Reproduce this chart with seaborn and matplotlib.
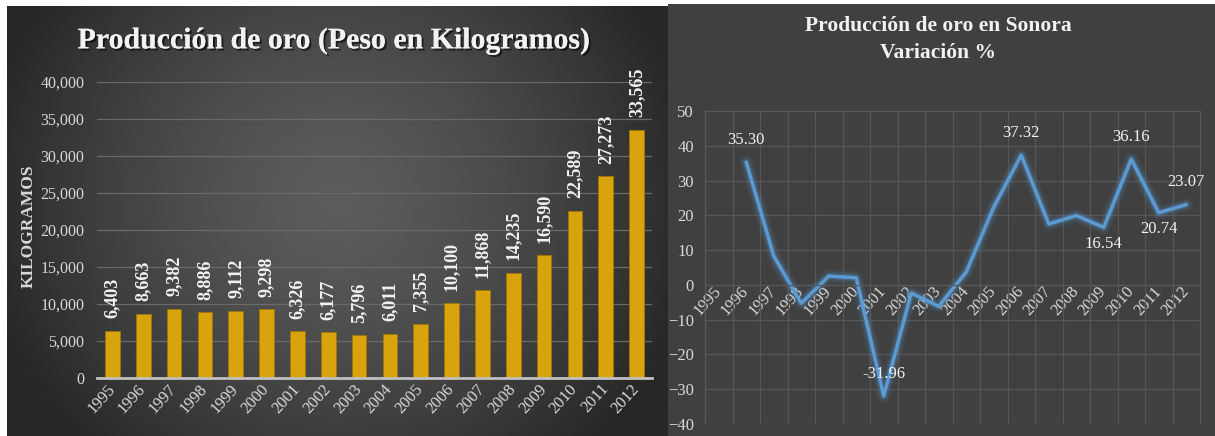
import numpy as np
import pandas as pd
import matplotlib
matplotlib.use("Agg")
import matplotlib.pyplot as plt
import matplotlib.patheffects as pe
import seaborn as sns

# ---------------- data ----------------
years = ["1995", "1996", "1997", "1998", "1999", "2000", "2001", "2002", "2003",
         "2004", "2005", "2006", "2007", "2008", "2009", "2010", "2011", "2012"]
produccion_kg = [6403, 8663, 9382, 8886, 9112, 9298, 6326, 6177, 5796,
                 6011, 7355, 10100, 11868, 14235, 16590, 22589, 27273, 33565]
variacion_pct = [np.nan, 35.30, 8.30, -5.29, 2.54, 2.04, -31.96, -2.36, -6.17,
                 3.71, 22.36, 37.32, 17.50, 19.94, 16.54, 36.16, 20.74, 23.07]
kg_ticks = [0, 5000, 10000, 15000, 20000, 25000, 30000, 35000, 40000]
pct_ticks = [-40, -30, -20, -10, 0, 10, 20, 30, 40, 50]
labels_above = ["1996", "2001", "2006", "2010", "2012"]
labels_below = ["2009", "2011"]

title_left = "Producción de oro (Peso en Kilogramos)"
title_right_1 = "Producción de oro en Sonora"
title_right_2 = "Variación %"
ylabel_left = "KILOGRAMOS"

# ---------------- style ----------------
W, H = 1215, 436
sns.set_theme(style="dark")
plt.rcParams['font.family'] = ['Liberation Serif', 'DejaVu Serif']

GOLD = "#D8A30C"
GOLD_EDGE = "#A07800"
LINE = "#5B9BD5"
TXT = "#D9D9D9"
WHITE = "#F2F2F2"

fig = plt.figure(figsize=(W / 100, H / 100), dpi=100)
fig.patch.set_facecolor("white")


def fx(px):
    return px / W


def fy(py):
    return 1 - py / H


# left panel background: radial gradient
bg = fig.add_axes([fx(7), 0, fx(668 - 7), (H - 6) / H], zorder=0)
ny, nx = 200, 300
yy, xx = np.mgrid[0:1:ny * 1j, 0:1:nx * 1j]
r = np.sqrt(((xx - 0.5) / 0.55) ** 2 + ((yy - 0.55) / 0.8) ** 2)
c_center = np.array([0x5C, 0x5C, 0x5C]) / 255
c_edge = np.array([0x27, 0x27, 0x27]) / 255
t = np.clip(r, 0, 1) ** 1.4
img = c_center[None, None, :] * (1 - t[..., None]) + c_edge[None, None, :] * t[..., None]
bg.imshow(img, aspect="auto", extent=[0, 1, 0, 1], origin="lower")
bg.axis("off")

# right panel background
bg2 = fig.add_axes([fx(668), 0, fx(W - 668), (H - 4) / H], zorder=0)
bg2.set_facecolor("#404040")
bg2.set_xticks([])
bg2.set_yticks([])
for s in bg2.spines.values():
    s.set_visible(False)

shadow = [pe.withSimplePatchShadow(offset=(1.5, -1.5), shadow_rgbFace="black", alpha=0.6), pe.Normal()]

# ---------------- left: bar chart ----------------
ax1 = fig.add_axes([fx(97), fy(378), fx(652 - 97), (378 - 82) / H], zorder=2)
ax1.patch.set_alpha(0)
df1 = pd.DataFrame({"year": years, "kg": produccion_kg})
sns.barplot(data=df1, x="year", y="kg", color=GOLD, saturation=1, width=0.48,
            edgecolor=GOLD_EDGE, linewidth=0.6, ax=ax1, zorder=3)
ax1.set_xlim(-0.5, len(years) - 0.5)
ax1.set_ylim(0, 40000)
ax1.set_yticks(kg_ticks)
ax1.set_yticklabels([f"{v:,}" for v in kg_ticks])
ax1.set_xlabel("")
ax1.set_ylabel("")
ax1.yaxis.grid(True, color="#6A6A6A", lw=0.9)
ax1.xaxis.grid(False)
ax1.set_axisbelow(True)
for k in ["left", "right", "top"]:
    ax1.spines[k].set_visible(False)
ax1.spines["bottom"].set_color("#C0C0C0")
ax1.spines["bottom"].set_linewidth(2)
ax1.spines["bottom"].set_zorder(4)
ax1.tick_params(axis="y", length=0, pad=9, labelsize=11.5, labelcolor=TXT)
ax1.tick_params(axis="x", length=0, pad=6, labelsize=12, labelcolor=TXT)
plt.setp(ax1.get_xticklabels(), rotation=48, ha="right", va="center", rotation_mode="anchor")
ax1.bar_label(ax1.containers[0], labels=[f"{v:,}" for v in produccion_kg], rotation=90,
              padding=9, fontsize=13, fontweight="bold", color=WHITE)

fig.text(fx(29), fy(226), ylabel_left, rotation=90, ha="center", va="center",
         fontsize=12.5, fontweight="bold", color=TXT)
fig.text(fx(334), fy(41), title_left, ha="center", va="center", fontsize=21.5,
         fontweight="bold", color=WHITE, path_effects=shadow)

# ---------------- right: line chart ----------------
ax2 = fig.add_axes([fx(705), fy(424), fx(1200 - 705), (424 - 111) / H], zorder=2)
ax2.patch.set_alpha(0)
df2 = pd.DataFrame({"pos": np.arange(len(years)), "pct": variacion_pct})
for lw, a in [(10, 0.07), (7, 0.12), (4.5, 0.22)]:
    sns.lineplot(data=df2, x="pos", y="pct", color=LINE, lw=lw, alpha=a, ax=ax2,
                 solid_capstyle="round", solid_joinstyle="round")
sns.lineplot(data=df2, x="pos", y="pct", color=LINE, lw=2.4, ax=ax2,
             solid_joinstyle="round")
ax2.set_xlim(-0.5, len(years) - 0.5)
ax2.set_ylim(-40, 50)
ax2.set_yticks(pct_ticks)
ax2.set_xticks(np.arange(len(years)))
ax2.set_xticklabels(years)
ax2.set_xticks(np.arange(-0.5, len(years), 1.0), minor=True)
ax2.set_xlabel("")
ax2.set_ylabel("")
ax2.grid(False)
ax2.yaxis.grid(True, which="major", color="#565656", lw=0.9)
ax2.xaxis.grid(True, which="minor", color="#565656", lw=0.9)
ax2.set_axisbelow(True)
for s in ax2.spines.values():
    s.set_color("#595959")
    s.set_linewidth(0.9)
ax2.spines["bottom"].set_position(("data", 0))
ax2.tick_params(axis="y", length=0, pad=8, labelsize=12, labelcolor=TXT)
ax2.tick_params(axis="x", which="both", length=0, pad=3, labelsize=12, labelcolor=TXT)
plt.setp(ax2.get_xticklabels(), rotation=48, ha="right", va="center", rotation_mode="anchor")

for i, (y, v) in enumerate(zip(years, variacion_pct)):
    if y in labels_above:
        ax2.annotate(f"{v:.2f}", (i, v), xytext=(0, 16), textcoords="offset points",
                     ha="center", va="center", fontsize=12, color=WHITE)
    elif y in labels_below:
        ax2.annotate(f"{v:.2f}", (i, v), xytext=(0, -12), textcoords="offset points",
                     ha="center", va="center", fontsize=12, color=WHITE)

fig.text(fx(938), fy(26), title_right_1, ha="center", va="center", fontsize=15.5,
         fontweight="bold", color=WHITE)
fig.text(fx(938), fy(53), title_right_2, ha="center", va="center", fontsize=15.5,
         fontweight="bold", color=WHITE)

fig.savefig("out.png", dpi=100)
